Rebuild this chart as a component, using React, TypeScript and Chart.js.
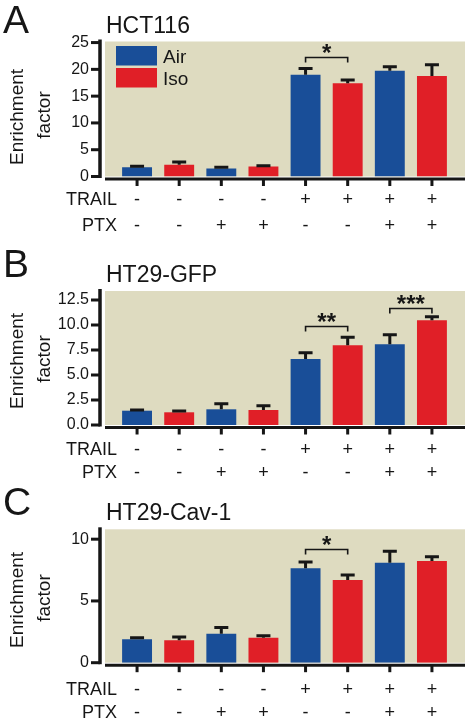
import React, { useEffect, useRef } from 'react';
import { Chart, registerables } from 'chart.js';

Chart.register(...registerables);

// ---------- data ----------
const conditions = ['c1', 'c2', 'c3', 'c4', 'c5', 'c6', 'c7', 'c8'];
const seriesNames = ['Air', 'Iso'];
const trailRow = ['-', '-', '-', '-', '+', '+', '+', '+'];
const ptxRow = ['-', '-', '+', '+', '-', '-', '+', '+'];

// Panel A: HCT116 (Air at conditions 1,3,5,7; Iso at 2,4,6,8)
const hctAir = [1.75, 1.5, 19.0, 19.75];
const hctAirErr = [0.15, 0.25, 1.15, 0.75];
const hctIso = [2.2, 1.88, 17.4, 18.75];
const hctIsoErr = [0.5, 0.15, 0.6, 2.1];
const hctTicks = [0, 5, 10, 15, 20, 25];
const hctTickLabels = ['0', '5', '10', '15', '20', '25'];
const hctSig = [{ from: 4, to: 5, at: 22.4, label: '*' }];

// Panel B: HT29-GFP
const gfpAir = [1.43, 1.57, 6.6, 8.07];
const gfpAirErr = [0.07, 0.56, 0.63, 0.96];
const gfpIso = [1.27, 1.5, 7.97, 10.47];
const gfpIsoErr = [0.13, 0.43, 0.8, 0.36];
const gfpTicks = [0, 2.5, 5, 7.5, 10, 12.5];
const gfpTickLabels = ['0.0', '2.5', '5.0', '7.5', '10.0', '12.5'];
const gfpSig = [
  { from: 4, to: 5, at: 9.9, label: '**' },
  { from: 6, to: 7, at: 11.7, label: '***' },
];

// Panel C: HT29-Cav-1
const cavAir = [1.89, 2.35, 7.65, 8.1];
const cavAirErr = [0.14, 0.49, 0.51, 0.93];
const cavIso = [1.81, 2.03, 6.7, 8.24];
const cavIsoErr = [0.27, 0.16, 0.4, 0.33];
const cavTicks = [0, 5, 10];
const cavTickLabels = ['0', '5', '10'];
const cavSig = [{ from: 4, to: 5, at: 9.2, label: '*' }];

// ---------- styles ----------
const FONT = "'Liberation Sans', Arial, Helvetica, sans-serif";
const BLUE = '#194e98';
const RED = '#e01f27';
const BEIGE = '#dedbc0';
const INK = '#161616';

type Sig = { from: number; to: number; at: number; label: string };
type PanelDef = {
  letter: string;
  title: string;
  air: number[];
  airErr: number[];
  iso: number[];
  isoErr: number[];
  ticks: number[];
  tickLabels: string[];
  max: number;
  sig: Sig[];
  legend: boolean;
  box: {
    top: number; h: number; areaTop: number; areaBottom: number;
    letterY: number; titleY: number; trailY: number; ptxY: number; axisTitleY: number;
  };
};

const panels: PanelDef[] = [
  {
    letter: 'A', title: 'HCT116', air: hctAir, airErr: hctAirErr, iso: hctIso, isoErr: hctIsoErr,
    ticks: hctTicks, tickLabels: hctTickLabels, max: 25.2, sig: hctSig, legend: true,
    box: { top: 0, h: 240, areaTop: 41.5, areaBottom: 176.5, letterY: 33, titleY: 33, trailY: 200.5, ptxY: 226.5, axisTitleY: 117 },
  },
  {
    letter: 'B', title: 'HT29-GFP', air: gfpAir, airErr: gfpAirErr, iso: gfpIso, isoErr: gfpIsoErr,
    ticks: gfpTicks, tickLabels: gfpTickLabels, max: 13.4, sig: gfpSig, legend: false,
    box: { top: 240, h: 240, areaTop: 51, areaBottom: 185, letterY: 37, titleY: 41.7, trailY: 210, ptxY: 233.3, axisTitleY: 121 },
  },
  {
    letter: 'C', title: 'HT29-Cav-1', air: cavAir, airErr: cavAirErr, iso: cavIso, isoErr: cavIsoErr,
    ticks: cavTicks, tickLabels: cavTickLabels, max: 10.8, sig: cavSig, legend: false,
    box: { top: 480, h: 246, areaTop: 49.3, areaBottom: 182.7, letterY: 34.5, titleY: 40, trailY: 210, ptxY: 233, axisTitleY: 120 },
  },
];

// place the 4 values of a series on alternate conditions
function spread(vals: number[], offset: number): (number | null)[] {
  return conditions.map((_, i) => (i % 2 === offset ? vals[(i - offset) / 2] : null));
}

function makeDeco(p: PanelDef, errs: (number | null)[][]) {
  return {
    id: 'deco' + p.letter,
    beforeDraw(chart: any) {
      const { ctx, chartArea } = chart;
      const y0 = chart.scales.y.getPixelForValue(0);
      ctx.save();
      ctx.fillStyle = BEIGE;
      ctx.fillRect(chartArea.left - 11, chartArea.top, chartArea.right + 12 - (chartArea.left - 11), y0 - chartArea.top);
      ctx.restore();
    },
    afterDatasetsDraw(chart: any) {
      const { ctx } = chart;
      const ys = chart.scales.y;
      ctx.save();
      ctx.strokeStyle = INK;
      ctx.lineWidth = 3;
      chart.data.datasets.forEach((ds: any, di: number) => {
        const meta = chart.getDatasetMeta(di);
        ds.data.forEach((v: number | null, i: number) => {
          const e = errs[di][i];
          if (v == null || e == null) return;
          const x = meta.data[i].x;
          const yt = ys.getPixelForValue(v);
          const ye = ys.getPixelForValue(v + e);
          ctx.beginPath();
          ctx.moveTo(x, yt);
          ctx.lineTo(x, ye);
          ctx.moveTo(x - 7, ye);
          ctx.lineTo(x + 7, ye);
          ctx.stroke();
        });
      });
      ctx.restore();
    },
    afterDraw(chart: any) {
      const { ctx, chartArea } = chart;
      const ys = chart.scales.y;
      const xs = chart.scales.x;
      const y0 = ys.getPixelForValue(0);
      const b = p.box;
      ctx.save();
      ctx.strokeStyle = INK;
      ctx.fillStyle = INK;
      ctx.lineCap = 'butt';

      // y axis line and tick marks
      const ax = chartArea.left - 16;
      ctx.lineWidth = 3.5;
      ctx.beginPath();
      ctx.moveTo(ax, chartArea.top - 2);
      ctx.lineTo(ax, y0 + 1.5);
      ctx.stroke();
      ctx.lineWidth = 3;
      p.ticks.forEach((t) => {
        const yy = ys.getPixelForValue(t);
        ctx.beginPath();
        ctx.moveTo(ax - 9, yy);
        ctx.lineTo(ax, yy);
        ctx.stroke();
      });

      // x axis line and tick marks
      const xl = y0 + 2.5;
      ctx.beginPath();
      ctx.moveTo(chartArea.left - 11, xl);
      ctx.lineTo(chartArea.right + 12, xl);
      ctx.stroke();
      conditions.forEach((_, i) => {
        const x = xs.getPixelForValue(i);
        ctx.beginPath();
        ctx.moveTo(x, xl);
        ctx.lineTo(x, xl + 7);
        ctx.stroke();
      });

      // significance brackets
      ctx.lineWidth = 1.6;
      p.sig.forEach((s) => {
        const x1 = xs.getPixelForValue(s.from);
        const x2 = xs.getPixelForValue(s.to);
        const yy = Math.round(ys.getPixelForValue(s.at)) + 0.5;
        ctx.beginPath();
        ctx.moveTo(x1, yy + 5);
        ctx.lineTo(x1, yy);
        ctx.lineTo(x2, yy);
        ctx.lineTo(x2, yy + 5);
        ctx.stroke();
        ctx.font = `bold 24px ${FONT}`;
        ctx.textAlign = 'center';
        ctx.textBaseline = 'alphabetic';
        ctx.fillText(s.label, (x1 + x2) / 2, yy + 3);
      });

      // TRAIL / PTX rows
      ctx.font = `18px ${FONT}`;
      ctx.textBaseline = 'middle';
      ctx.textAlign = 'right';
      ctx.fillText('TRAIL', 117, b.trailY);
      ctx.fillText('PTX', 117, b.ptxY);
      ctx.textAlign = 'center';
      conditions.forEach((_, i) => {
        const x = xs.getPixelForValue(i);
        ctx.fillText(trailRow[i], x, b.trailY);
        ctx.fillText(ptxRow[i], x, b.ptxY);
      });

      // panel letter and title
      ctx.textBaseline = 'alphabetic';
      ctx.textAlign = 'left';
      ctx.font = `39px ${FONT}`;
      ctx.fillText(p.letter, 3, b.letterY);
      ctx.font = `23px ${FONT}`;
      ctx.fillText(p.title, 106, b.titleY);

      // y axis title
      ctx.font = `19px ${FONT}`;
      ctx.textAlign = 'center';
      ctx.save();
      ctx.translate(23, b.axisTitleY);
      ctx.rotate(-Math.PI / 2);
      ctx.fillText('Enrichment', 0, 0);
      ctx.restore();
      ctx.save();
      ctx.translate(50, b.axisTitleY - 2);
      ctx.rotate(-Math.PI / 2);
      ctx.fillText('factor', 0, 0);
      ctx.restore();

      // legend
      if (p.legend) {
        const cols = [BLUE, RED];
        seriesNames.forEach((name, k) => {
          const top = chartArea.top + 4.5 + k * 22;
          ctx.fillStyle = cols[k];
          ctx.fillRect(chartArea.left, top, 41, 19.5);
          ctx.fillStyle = INK;
          ctx.font = `19px ${FONT}`;
          ctx.textAlign = 'left';
          ctx.textBaseline = 'alphabetic';
          ctx.fillText(name, chartArea.left + 47, top + 17.3);
        });
      }
      ctx.restore();
    },
  };
}

function Panel({ p }: { p: PanelDef }) {
  const ref = useRef<HTMLCanvasElement>(null);
  useEffect(() => {
    if (!ref.current) return;
    const airData = spread(p.air, 0);
    const isoData = spread(p.iso, 1);
    const errs = [spread(p.airErr, 0), spread(p.isoErr, 1)];
    const b = p.box;
    const chart = new Chart(ref.current, {
      type: 'bar',
      data: {
        labels: conditions,
        datasets: [
          { label: seriesNames[0], data: airData, backgroundColor: BLUE, borderWidth: 0, barPercentage: 0.71, categoryPercentage: 1 },
          { label: seriesNames[1], data: isoData, backgroundColor: RED, borderWidth: 0, barPercentage: 0.71, categoryPercentage: 1 },
        ],
      },
      options: {
        animation: false,
        responsive: false,
        devicePixelRatio: 1,
        layout: { padding: { left: 0, right: 21, top: b.areaTop, bottom: b.h - b.areaBottom } },
        plugins: { legend: { display: false }, tooltip: { enabled: false }, title: { display: false } },
        scales: {
          x: { display: false, stacked: true, offset: true },
          y: {
            stacked: true,
            min: 0,
            max: p.max,
            grid: { display: false, drawTicks: false },
            border: { display: false },
            afterFit: (s: any) => { s.width = 116; },
            afterBuildTicks: (s: any) => { s.ticks = p.ticks.map((v) => ({ value: v })); },
            ticks: {
              padding: 27,
              color: INK,
              font: { family: FONT, size: 16 },
              callback: (_v: any, i: number) => p.tickLabels[i],
            },
          },
        },
      },
      plugins: [makeDeco(p, errs)],
    });
    return () => chart.destroy();
  }, [p]);
  return (
    <canvas
      ref={ref}
      width={474}
      height={p.box.h}
      style={{ position: 'absolute', left: 0, top: p.box.top, width: 474, height: p.box.h, display: 'block' }}
    />
  );
}

export default function App() {
  useEffect(() => {
    document.body.style.margin = '0';
    document.body.style.background = '#ffffff';
  }, []);
  return (
    <div style={{ position: 'relative', width: 474, height: 726, background: '#fff', overflow: 'hidden' }}>
      {panels.map((p) => (
        <Panel key={p.letter} p={p} />
      ))}
    </div>
  );
}
